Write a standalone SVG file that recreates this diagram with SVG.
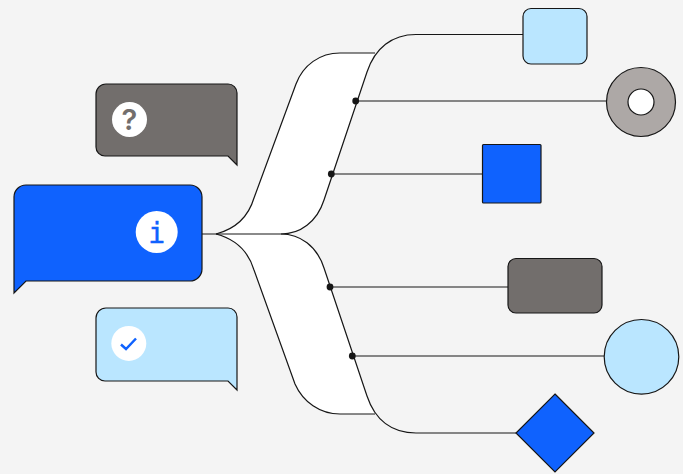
<svg xmlns="http://www.w3.org/2000/svg" width="683" height="474" viewBox="0 0 683 474">
<style>
.s{stroke:#161616;stroke-width:1.2}
.l{fill:none;stroke:#161616;stroke-width:1.2}
.dot{fill:#161616}
.blue{fill:#0f62fe}
.sky{fill:#bae6ff}
.gray{fill:#726e6c}
.w{fill:#fff}
</style>
<rect width="683" height="474" fill="#f4f4f4"/>
<g id="connectors">
<path class="w" d="M216 234C235 229 248 218 254 198L296 84C303 65 320 53 340 53H375C371 59 369 66 367 72L324 200C317 222 300 234 281 234C300 234 317 246 324 268L367 396C369 402 371 408 375 414H340C320 414 303 402 295 384L254 270C248 250 235 239 216 234Z"/>
<path class="l" d="M202 234H281"/>
<path class="l" d="M216 234C235 229 248 218 254 198L296 84C303 65 320 53 340 53H375"/>
<path class="l" d="M281 234C300 234 317 222 324 200L367 72C375 48 392 34.500 416 34.500H523"/>
<path class="l" d="M216 234C235 239 248 250 254 270L295 384C303 402 320 414 340 414H375"/>
<path class="l" d="M281 234C300 234 317 246 324 268L367 396C375 420 392 433 416 433H516"/>
<path class="l" d="M355.500 101H607"/>
<path class="l" d="M331.500 174H482"/>
<path class="l" d="M330 287H508"/>
<path class="l" d="M352.500 356H604"/>
<circle class="dot" cx="355.700" cy="101" r="3.400"/>
<circle class="dot" cx="331.300" cy="174" r="3.400"/>
<circle class="dot" cx="330" cy="287" r="3.400"/>
<circle class="dot" cx="352.300" cy="356" r="3.400"/>
</g>
<g id="bubble-question">
<path class="gray s" d="M106 84H228A9 9 0 0 1 237 93V165L228 156H105A9 9 0 0 1 96 147V94A10 10 0 0 1 106 84Z"/>
<circle class="w" cx="129.500" cy="119.500" r="17.500"/>
<text x="129.500" y="130" font-family="Inter, sans-serif" font-size="29" font-weight="600" fill="#726e6c" text-anchor="middle">?</text>
</g>
<g id="bubble-info">
<path class="blue s" d="M26 185H190A12 12 0 0 1 202 197V269A12 12 0 0 1 190 281H26L14 293V197A12 12 0 0 1 26 185Z"/>
<circle class="w" cx="156.700" cy="232" r="21"/>
<text x="156.700" y="243" font-family="DejaVu Sans Mono, monospace" font-size="28" fill="#0f62fe" stroke="#0f62fe" stroke-width="0.400" text-anchor="middle">i</text>
</g>
<g id="bubble-check">
<path class="sky s" d="M106 308H228A9 9 0 0 1 237 317V390L228 381H105A9 9 0 0 1 96 372V318A10 10 0 0 1 106 308Z"/>
<circle class="w" cx="128.800" cy="343.400" r="17.500"/>
<path d="M121 344.500L126 349L136 338.500" fill="none" stroke="#0f62fe" stroke-width="2.500"/>
</g>
<g id="node-sky-rect"><rect class="sky s" x="523" y="8.500" width="64" height="55.500" rx="8"/></g>
<g id="node-donut"><circle cx="641" cy="102" r="34.500" fill="#ada8a6" stroke="#161616" stroke-width="1.200"/><circle cx="641" cy="102" r="13" fill="#fff" stroke="#161616" stroke-width="1.200"/></g>
<g id="node-blue-square"><rect class="blue s" x="482.500" y="144.500" width="58.500" height="58.500" rx="1"/></g>
<g id="node-gray-rect"><rect class="gray s" x="508" y="258.500" width="94" height="54.500" rx="8"/></g>
<g id="node-sky-circle"><circle class="sky s" cx="641.500" cy="356.800" r="37.300"/></g>
<g id="node-diamond"><path class="blue s" d="M555 394L594 433L555 472L516 433Z"/></g>
</svg>
